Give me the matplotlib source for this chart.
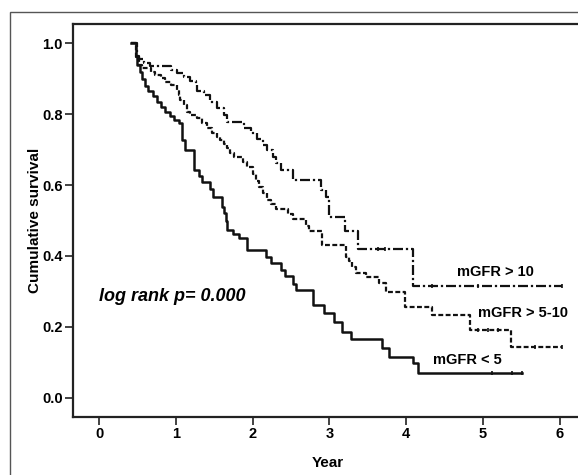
import numpy as np
import matplotlib
matplotlib.use("Agg")
import matplotlib.pyplot as plt
from matplotlib.patches import Rectangle

plt.rcParams['font.family'] = ['Liberation Sans', 'DejaVu Sans']

# ---- data ----
start_time = 0.42

# mGFR < 5 (solid)
low_t = [0.48, 0.50, 0.53, 0.56, 0.60, 0.64, 0.70, 0.75, 0.80, 0.86, 0.92, 0.98,
         1.04, 1.08, 1.12, 1.23, 1.30, 1.34, 1.45, 1.49, 1.60, 1.63, 1.65, 1.67,
         1.75, 1.82, 1.93, 2.17, 2.24, 2.37, 2.42, 2.52, 2.56, 2.78, 2.93, 3.06,
         3.17, 3.28, 3.68, 3.78, 4.09, 4.16]
low_s = [0.965, 0.94, 0.92, 0.90, 0.88, 0.865, 0.85, 0.835, 0.82, 0.805, 0.795, 0.785,
         0.775, 0.727, 0.70, 0.642, 0.625, 0.61, 0.59, 0.567, 0.539, 0.52, 0.50, 0.474,
         0.462, 0.45, 0.417, 0.398, 0.38, 0.36, 0.343, 0.322, 0.304, 0.261, 0.238, 0.214,
         0.186, 0.165, 0.139, 0.116, 0.097, 0.069]
low_end = 5.51
low_cens = [5.12, 5.38, 5.51]

# mGFR > 5-10 (dashed)
mid_t = [0.48, 0.52, 0.56, 0.68, 0.73, 0.80, 0.86, 0.93, 1.02, 1.04, 1.06, 1.10,
         1.15, 1.19, 1.28, 1.34, 1.41, 1.47, 1.54, 1.58, 1.63, 1.67, 1.71, 1.76,
         1.87, 1.93, 2.00, 2.04, 2.08, 2.13, 2.19, 2.24, 2.30, 2.46, 2.53, 2.69,
         2.73, 2.90, 3.22, 3.25, 3.29, 3.35, 3.48, 3.65, 3.74, 3.98, 4.33, 4.83, 5.37]
mid_s = [0.96, 0.94, 0.929, 0.92, 0.912, 0.901, 0.892, 0.882, 0.868, 0.855, 0.84, 0.826,
         0.807, 0.798, 0.788, 0.774, 0.76, 0.746, 0.736, 0.727, 0.716, 0.704, 0.69, 0.678,
         0.665, 0.652, 0.63, 0.612, 0.595, 0.577, 0.558, 0.546, 0.532, 0.518, 0.503, 0.485,
         0.47, 0.431, 0.398, 0.385, 0.37, 0.351, 0.34, 0.323, 0.299, 0.257, 0.233, 0.191, 0.144]
mid_end = 6.03
mid_cens = [4.94, 5.07, 5.20, 5.68, 6.03]

# mGFR > 10 (dash-dot)
high_t = [0.49, 0.52, 0.58, 0.66, 0.93, 1.02, 1.10, 1.19, 1.26, 1.28, 1.36, 1.45,
          1.54, 1.63, 1.67, 1.89, 1.98, 2.06, 2.13, 2.19, 2.26, 2.30, 2.37, 2.52,
          2.89, 2.96, 2.99, 3.00, 3.20, 3.37, 4.09]
high_s = [0.965, 0.955, 0.945, 0.935, 0.925, 0.915, 0.905, 0.893, 0.882, 0.865, 0.854, 0.835,
          0.817, 0.797, 0.779, 0.76, 0.746, 0.73, 0.713, 0.699, 0.68, 0.661, 0.642, 0.614,
          0.586, 0.567, 0.539, 0.511, 0.47, 0.42, 0.315]
high_end = 6.03
high_cens = [3.63, 3.72, 4.33, 4.94, 6.03]

x_ticks = [0, 1, 2, 3, 4, 5, 6]
y_ticks = [0.0, 0.2, 0.4, 0.6, 0.8, 1.0]
y_tick_labels = ["0.0", "0.2", "0.4", "0.6", "0.8", "1.0"]
labels = ["mGFR < 5", "mGFR > 5-10", "mGFR > 10"]
annotation = "log rank p= 0.000"

# ---- figure ----
W, H = 578, 475
fig = plt.figure(figsize=(W / 100, H / 100), dpi=100)
ax_w_px = 582 - 73
ax = fig.add_axes([73 / W, 1 - 416.7 / H, ax_w_px / W, (416.7 - 24) / H])

# outer frame
fig.add_artist(Rectangle((10 / W, -0.2), 1.2, 1 - 12 / H + 0.2, transform=fig.transFigure,
                         fill=False, edgecolor='#555555', lw=1.0, clip_on=False))


def km_xy(t0, times, surv, t_end):
    xs = [t0] + list(times) + [t_end]
    ys = [1.0] + list(surv) + [surv[-1]]
    return xs, ys


def surv_at(t, times, surv):
    s = 1.0
    for ti, si in zip(times, surv):
        if t >= ti:
            s = si
    return s


col = '#111111'
series = [
    (low_t, low_s, low_end, low_cens, dict(linestyle='-', lw=1.8)),
    (mid_t, mid_s, mid_end, mid_cens, dict(linestyle=(0, (2.2, 1.1)), lw=1.6)),
    (high_t, high_s, high_end, high_cens, dict(linestyle=(0, (4.5, 1.3, 1.0, 1.3)), lw=1.6)),
]
for times, surv, t_end, cens, style in series:
    xs, ys = km_xy(start_time, times, surv, t_end)
    ax.step(xs, ys, where='post', color=col, **style)
    cs = [surv_at(c, times, surv) for c in cens]
    ax.plot(cens, cs, linestyle='none', marker='|', markersize=3.5, mew=1.2, color=col)

ax.set_xlim(-0.34, 6.29)
ax.set_ylim(-0.0536, 1.0545)
ax.set_xticks(x_ticks)
ax.set_xticklabels([str(v) for v in x_ticks], fontsize=10.5, fontweight='bold')
ax.set_yticks(y_ticks)
ax.set_yticklabels(y_tick_labels, fontsize=10.5, fontweight='bold')
ax.tick_params(direction='out', length=6, width=1.2, color='#222222', pad=1.5)

ax.spines['right'].set_visible(False)
for side in ['left', 'bottom', 'top']:
    ax.spines[side].set_linewidth(1.6)
    ax.spines[side].set_color('#222222')

ax.set_xlabel("Year", fontsize=11, fontweight='bold')
ax.set_ylabel("Cumulative survival", fontsize=11, fontweight='bold')
ax.yaxis.set_label_coords((35 - 73) / ax_w_px, 0.5)
ax.xaxis.set_label_coords((328 - 73) / ax_w_px, -(463 - 416.7) / (416.7 - 24))
ax.xaxis.label.set_va('center')
ax.yaxis.label.set_va('center')

ax.text(0.0, 0.286, annotation, fontsize=13, fontweight='bold', style='italic',
        va='center', ha='left')
ax.text(4.35, 0.105, labels[0], fontsize=10.5, fontweight='bold', va='center', ha='left')
ax.text(4.94, 0.238, labels[1], fontsize=10.5, fontweight='bold', va='center', ha='left')
ax.text(4.66, 0.356, labels[2], fontsize=10.5, fontweight='bold', va='center', ha='left')

fig.savefig("out.png", dpi=100)
